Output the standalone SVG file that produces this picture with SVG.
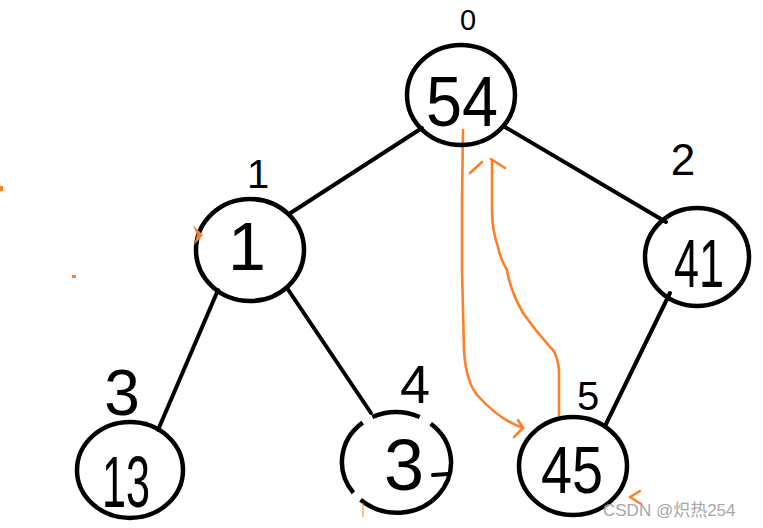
<svg xmlns="http://www.w3.org/2000/svg" width="763" height="528" viewBox="0 0 763 528">
<style>
.c{fill:none;stroke:#000;stroke-width:4.5}
.e{stroke:#000;stroke-width:4;fill:none;stroke-linecap:round}
.o{stroke:#ff7f27;stroke-width:2.6;fill:none;stroke-linecap:round;stroke-linejoin:round}
.v{font-family:"Liberation Sans",Arial,sans-serif;fill:#000;text-anchor:middle}
.idx{font-family:"Liberation Sans",Arial,sans-serif;fill:#000;text-anchor:middle}
</style>
<rect width="763" height="528" fill="#fff"/>
<g id="connectors">
<line class="e" x1="422" y1="128" x2="289" y2="214"/>
<line class="e" x1="505" y1="127" x2="666" y2="222"/>
<line class="e" x1="218" y1="290" x2="158" y2="430"/>
<line class="e" x1="287" y1="288" x2="371" y2="413"/>
<line class="e" x1="670" y1="293" x2="606" y2="424"/>
<path class="o" d="M463,130 L462,200 L462,270 L464,350 Q466,385 480,398 Q500,420 523,428"/>
<path class="o" d="M518,420 L523,428 L514,437"/>
<path class="o" d="M559,415 L559,370 Q557,352 550,347 Q535,330 523,313 Q510,290 507,270 Q500,258 498,247 Q492,230 492,210 L492,160"/>
<path class="o" d="M491,159 L505,168 M470,173 L482,162"/>
</g>
<g id="node0">
<ellipse class="c" cx="461" cy="95" rx="54" ry="50"/>
<text class="idx" x="468" y="30" font-size="29">0</text>
<text class="v" x="462" y="126" font-size="70" textLength="72" lengthAdjust="spacingAndGlyphs">54</text>
</g>
<g id="node1">
<ellipse class="c" cx="250" cy="250" rx="54" ry="51"/>
<text class="idx" x="258" y="188" font-size="40">1</text>
<text class="v" x="247" y="270" font-size="68">1</text>
</g>
<g id="node2">
<ellipse class="c" cx="697" cy="257" rx="52" ry="49"/>
<text class="idx" x="683" y="175" font-size="44">2</text>
<text class="v" x="699" y="287" font-size="68" textLength="50" lengthAdjust="spacingAndGlyphs">41</text>
</g>
<g id="node3">
<ellipse class="c" cx="130" cy="470" rx="53" ry="48"/>
<text class="idx" x="122" y="415" font-size="64">3</text>
<text class="v" x="126" y="507" font-size="72" textLength="48" lengthAdjust="spacingAndGlyphs">13</text>
</g>
<g id="node4">
<path class="c" d="M372.3,417 A54,50 0 0 1 419.7,417 M430.7,423.7 A54,50 0 1 1 360.6,499.7 M353.4,492.8 A54,50 0 0 1 362.7,422.6"/>
<text class="idx" x="415" y="403" font-size="54">4</text>
<text class="v" x="404" y="490" font-size="72">3</text>
<line class="e" x1="433" y1="475" x2="448" y2="474" stroke-width="2.5"/>
</g>
<g id="node5">
<ellipse class="c" cx="573" cy="466" rx="54" ry="49"/>
<text class="idx" x="588" y="410" font-size="40">5</text>
<text class="v" x="572" y="493" font-size="66" textLength="62" lengthAdjust="spacingAndGlyphs">45</text>
</g>
<g id="marks">
<path d="M193,225 L203,235 L194,245 L197,235 Z" fill="#ff7f27"/>
<path class="o" d="M640,491 L630,497 L641,504" stroke-width="3"/>
<rect x="0" y="186" width="3" height="5" fill="#ff7f27"/>
<rect x="72" y="275" width="4" height="3" fill="#ff7f27"/>
<line x1="363" y1="503" x2="363" y2="517" stroke="#ff7f27" stroke-width="1"/>
</g>
<text x="603" y="516" font-size="17" fill="#a6a6a6" font-family="'Liberation Sans','Noto Sans CJK SC',sans-serif">CSDN @炽热254</text>
</svg>
